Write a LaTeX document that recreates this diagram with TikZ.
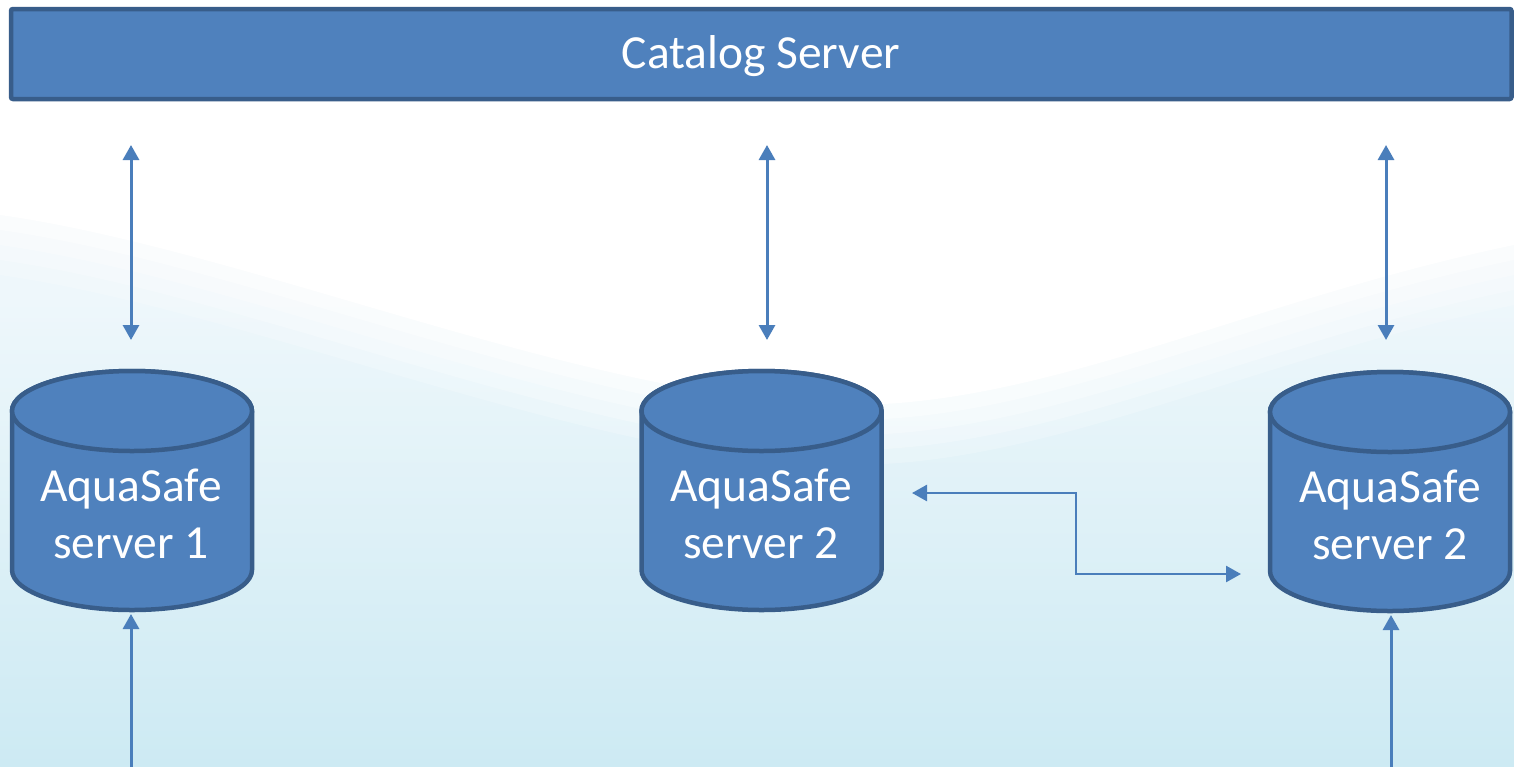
\documentclass[tikz,border=0pt]{standalone}
\usepackage{fontspec}
\setmainfont{Carlito}
\usetikzlibrary{arrows.meta}
\definecolor{boxfill}{HTML}{4F81BD}
\definecolor{boxline}{HTML}{385D8A}
\definecolor{arrowcol}{HTML}{4A7EBB}
\definecolor{bgtop}{HTML}{EEF7FB}
\definecolor{bgmid}{HTML}{E2F2F8}
\definecolor{bgbot}{HTML}{CDEAF3}
\newcommand\drawcyl[2]{%
  \path[cyl] (#1-120,-#2) -- (#1-120,-#2-159)
    arc[start angle=180,end angle=360,x radius=120,y radius=40]
    -- (#1+120,-#2)
    arc[start angle=0,end angle=180,x radius=120,y radius=40] -- cycle;
  \path[cyl] (#1,-#2) ellipse[x radius=120,y radius=40];
}
\begin{document}
\begin{tikzpicture}[x=1pt,y=1pt,
  lbl/.style={text=white,font=\fontsize{47.5}{56.5}\selectfont,align=center,inner sep=0pt},
  cyl/.style={fill=boxfill,draw=boxline,line width=4.5pt},
  conn/.style={draw=arrowcol,line width=3pt,{Triangle[length=15pt,width=16pt]}-{Triangle[length=15pt,width=16pt]}},
  single/.style={draw=arrowcol,line width=3pt,-{Triangle[length=15pt,width=16pt]}}]
\useasboundingbox (0,0) rectangle (1514,-766);
% background
\fill[bgtop] (0,0) rectangle (1514,-766);
\shade[top color=bgtop,middle color=bgmid,bottom color=bgbot] (0,-300) rectangle (1514,-766);
\foreach \d/\o in {60/0.2,45/0.25,30/0.3,15/0.4}{
  \fill[white,opacity=\o] (0,0) -- (1514,0) -- (1514,-245-\d)
    .. controls (1250,-300-\d) and (1050,-405-\d) .. (850,-405-\d)
    .. controls (600,-405-\d) and (250,-250-\d) .. (0,-215-\d) -- cycle;
}
\fill[white] (0,0) -- (1514,0) -- (1514,-245)
  .. controls (1250,-300) and (1050,-405) .. (850,-405)
  .. controls (600,-405) and (250,-250) .. (0,-215) -- cycle;
% catalog server
\node[draw=boxline,fill=boxfill,line width=4.5pt,rounded corners=2pt,
  minimum width=1500.5pt,minimum height=90pt,inner sep=0pt] (cat) at (761.25,-54) {};
\node[lbl,anchor=base] (catlbl) at (761,-68) {Catalog Server};
% cylinders
\drawcyl{132}{411}
\drawcyl{761.5}{411}
\drawcyl{1390}{412}
\node[lbl] (s1) at (131,-514) {AquaSafe\\server 1};
\node[lbl] (s2) at (761,-514) {AquaSafe\\server 2};
\node[lbl] (s3) at (1390,-515) {AquaSafe\\server 2};
% arrows to catalog
\coordinate (a1t) at (131,-145); \coordinate (a1b) at (131,-340);
\coordinate (a2t) at (767,-145); \coordinate (a2b) at (767,-340);
\coordinate (a3t) at (1386,-145); \coordinate (a3b) at (1386,-340);
\draw[conn] (a1t) -- (a1b);
\draw[conn] (a2t) -- (a2b);
\draw[conn] (a3t) -- (a3b);
% elbow between server 2 nodes
\coordinate (e1) at (912,-493);
\coordinate (e2) at (1241,-574);
\coordinate (ek) at (1076,0);
\draw[conn,line width=2.6pt] (e1) -- (e1 -| ek) |- (e2);
% bottom arrows
\coordinate (b1) at (131,-770); \coordinate (b1t) at (131,-614);
\coordinate (b3) at (1391,-770); \coordinate (b3t) at (1391,-615);
\draw[single] (b1) -- (b1t);
\draw[single] (b3) -- (b3t);
\end{tikzpicture}
\end{document}
